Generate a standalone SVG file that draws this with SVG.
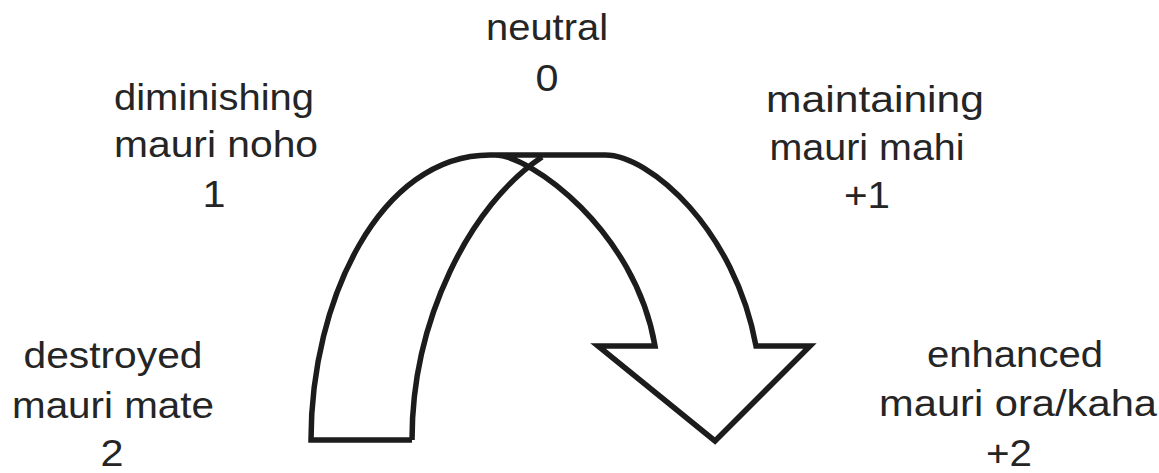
<svg xmlns="http://www.w3.org/2000/svg" width="1159" height="473" viewBox="0 0 1159 473">
  <style>
    .lbl { font-family: "Liberation Sans", Arial, sans-serif; font-size: 37px; fill: #252525; text-anchor: middle; }
    .shape { fill: none; stroke: #1c1c1c; stroke-width: 5.5; stroke-linejoin: miter; stroke-linecap: butt; }
  </style>
  <rect width="1159" height="473" fill="#ffffff"/>

  <g id="connectors">
    <path class="shape" d="M 412,440 L 311,440 C 311,300 380,155 490,155 L 605,155 C 650,155 735,230 756,346 L 810,346 L 715,441 L 598,346 L 655,346 C 635,230 530,155 495,155"/>
    <path class="shape" d="M 412,440 C 412,320 470,205 542,157"/>
  </g>

  <g id="node-neutral">
    <text class="lbl" x="547" y="40" textLength="122" lengthAdjust="spacingAndGlyphs">neutral</text>
    <text class="lbl" x="547" y="91" textLength="23" lengthAdjust="spacingAndGlyphs">0</text>
  </g>

  <g id="node-diminishing">
    <text class="lbl" x="214" y="110" textLength="200" lengthAdjust="spacingAndGlyphs">diminishing</text>
    <text class="lbl" x="216" y="157" textLength="204" lengthAdjust="spacingAndGlyphs">mauri noho</text>
    <text class="lbl" x="214" y="207" textLength="23" lengthAdjust="spacingAndGlyphs">1</text>
  </g>

  <g id="node-maintaining">
    <text class="lbl" x="875" y="112" textLength="218" lengthAdjust="spacingAndGlyphs">maintaining</text>
    <text class="lbl" x="867" y="160" textLength="195" lengthAdjust="spacingAndGlyphs">mauri mahi</text>
    <text class="lbl" x="867" y="208" textLength="46" lengthAdjust="spacingAndGlyphs">+1</text>
  </g>

  <g id="node-destroyed">
    <text class="lbl" x="113" y="368" textLength="179" lengthAdjust="spacingAndGlyphs">destroyed</text>
    <text class="lbl" x="113" y="418" textLength="202" lengthAdjust="spacingAndGlyphs">mauri mate</text>
    <text class="lbl" x="112" y="466" textLength="23" lengthAdjust="spacingAndGlyphs">2</text>
  </g>

  <g id="node-enhanced">
    <text class="lbl" x="1015" y="367" textLength="176" lengthAdjust="spacingAndGlyphs">enhanced</text>
    <text class="lbl" x="1018" y="416" textLength="278" lengthAdjust="spacingAndGlyphs">mauri ora/kaha</text>
    <text class="lbl" x="1009" y="466" textLength="46" lengthAdjust="spacingAndGlyphs">+2</text>
  </g>
</svg>
